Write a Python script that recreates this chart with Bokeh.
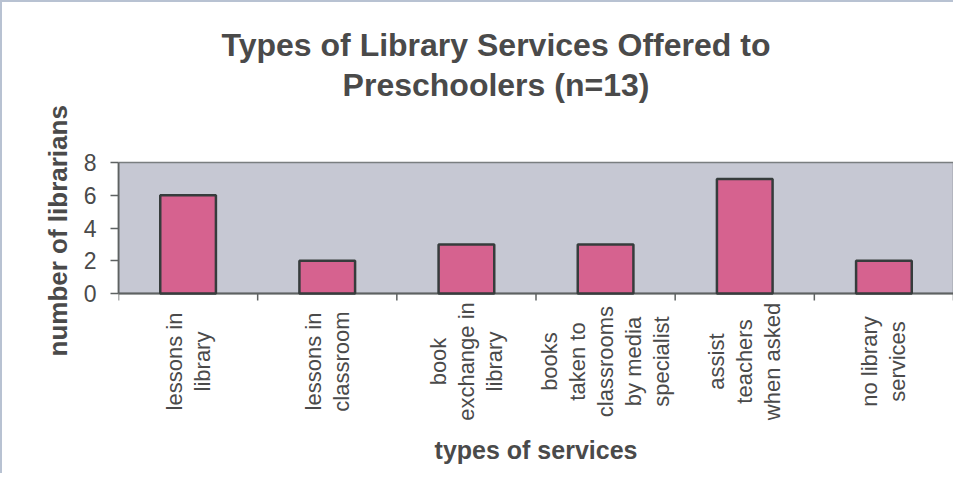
import math
from bokeh.plotting import figure
from bokeh.models import Range1d, FixedTicker, ColumnDataSource, Label, LabelSet, Title
from bokeh.core.properties import value
from bokeh.embed import file_html
from bokeh.resources import INLINE

title_lines = ["Types of Library Services Offered to", "Preschoolers (n=13)"]
y_title = "number of librarians"
x_title = "types of services"
categories = [
    "lessons in\nlibrary",
    "lessons in\nclassroom",
    "book\nexchange in\nlibrary",
    "books\ntaken to\nclassrooms\nby media\nspecialist",
    "assist\nteachers\nwhen asked",
    "no library\nservices",
]
values = [6, 2, 3, 3, 7, 2]
y_ticks = [0, 2, 4, 6, 8]
y_max = 8

TEXT = "#4a4a4a"
FONT = "Liberation Sans"
AXIS = "#5e6262"

# layout (pixels inside the canvas)
W, H = 953, 473
PLOT_TOP, PLOT_BOTTOM = 160, 291
LINE_GAP = 28
px_per_unit = (PLOT_BOTTOM - PLOT_TOP) / y_max

n = len(categories)
centers = [i + 0.5 for i in range(n)]
boundaries = list(range(n + 1))

src = ColumnDataSource(dict(x=centers, top=values))

# one entry per label line, every line centred on its category's label block
lx, lt, lxo = [], [], []
for cx, lab in zip(centers, categories):
    lines = lab.split("\n")
    k = len(lines)
    for i, line in enumerate(lines):
        lx.append(cx)
        lt.append(line)
        lxo.append((i - (k - 1) / 2) * LINE_GAP)
lab_src = ColumnDataSource(dict(x=lx, text=lt, xo=lxo, base=[0] * len(lx)))

p = figure(width=W, height=H, output_backend="svg", toolbar_location=None,
           x_range=Range1d(0, n),
           y_range=Range1d(-(H - PLOT_BOTTOM) / px_per_unit, y_max + PLOT_TOP / px_per_unit),
           x_axis_location=None,
           min_border_left=116, min_border_right=2, min_border_top=0, min_border_bottom=0)
p.styles = {"border-left": "2px solid #b8c2d2", "border-top": "2px solid #b8c2d2"}

p.background_fill_color = "white"
p.border_fill_color = "white"
p.outline_line_color = None
p.xgrid.visible = False
p.ygrid.visible = False

# plot area (gray) spanning the category range and value range
p.quad(left=0, right=n, bottom=0, top=y_max,
       fill_color="#c6c8d3", line_color="#7a7e80", line_width=1.5)
# category boundary tick marks
p.ray(x=boundaries, y=[0] * len(boundaries), length=7, length_units="screen",
      angle=-math.pi / 2, line_color=AXIS, line_width=1.5)
# x axis line
p.segment(x0=[0], y0=[0], x1=[n], y1=[0], line_color=AXIS, line_width=1.8)

p.vbar(x="x", top="top", width=0.4, bottom=0, source=src,
       fill_color="#d6628f", line_color="#363c3c", line_width=2.5)

# title lines
for line, off in zip(title_lines, [118, 78]):
    p.add_layout(Label(x=n / 2, y=y_max, x_offset=-40, y_offset=off, text=line,
                       text_align="center", text_baseline="middle",
                       text_font=FONT, text_font_size="32px", text_font_style="bold",
                       text_color=TEXT))

# category labels (vertical text)
p.add_layout(LabelSet(x="x", y="base", text="text", x_offset="xo", source=lab_src,
                      angle=math.pi / 2, y_offset=-68,
                      text_align="center", text_baseline="middle",
                      text_font=value(FONT), text_font_size=value("22px"),
                      text_color=value(TEXT)))

# x title
p.add_layout(Label(x=n / 2, y=0, y_offset=-156, text=x_title,
                   text_align="center", text_baseline="middle",
                   text_font=FONT, text_font_size="25px", text_font_style="bold",
                   text_color=TEXT))

# y axis
ya = p.yaxis[0]
ya.bounds = (0, y_max)
ya.ticker = FixedTicker(ticks=y_ticks)
ya.minor_tick_line_color = None
ya.major_tick_out = 8
ya.major_tick_in = 0
ya.major_label_standoff = 14
ya.major_label_text_font = FONT
ya.major_label_text_font_size = "23px"
ya.major_label_text_color = TEXT
ya.axis_line_color = AXIS
ya.axis_line_width = 1.8
ya.major_tick_line_color = AXIS
ya.major_tick_line_width = 1.5

p.add_layout(Title(text=y_title, align="left", offset=119, standoff=16,
                   text_font=FONT, text_font_size="26px", text_font_style="bold",
                   text_color=TEXT), "left")

open("out.html", "w").write(file_html(p, INLINE))
